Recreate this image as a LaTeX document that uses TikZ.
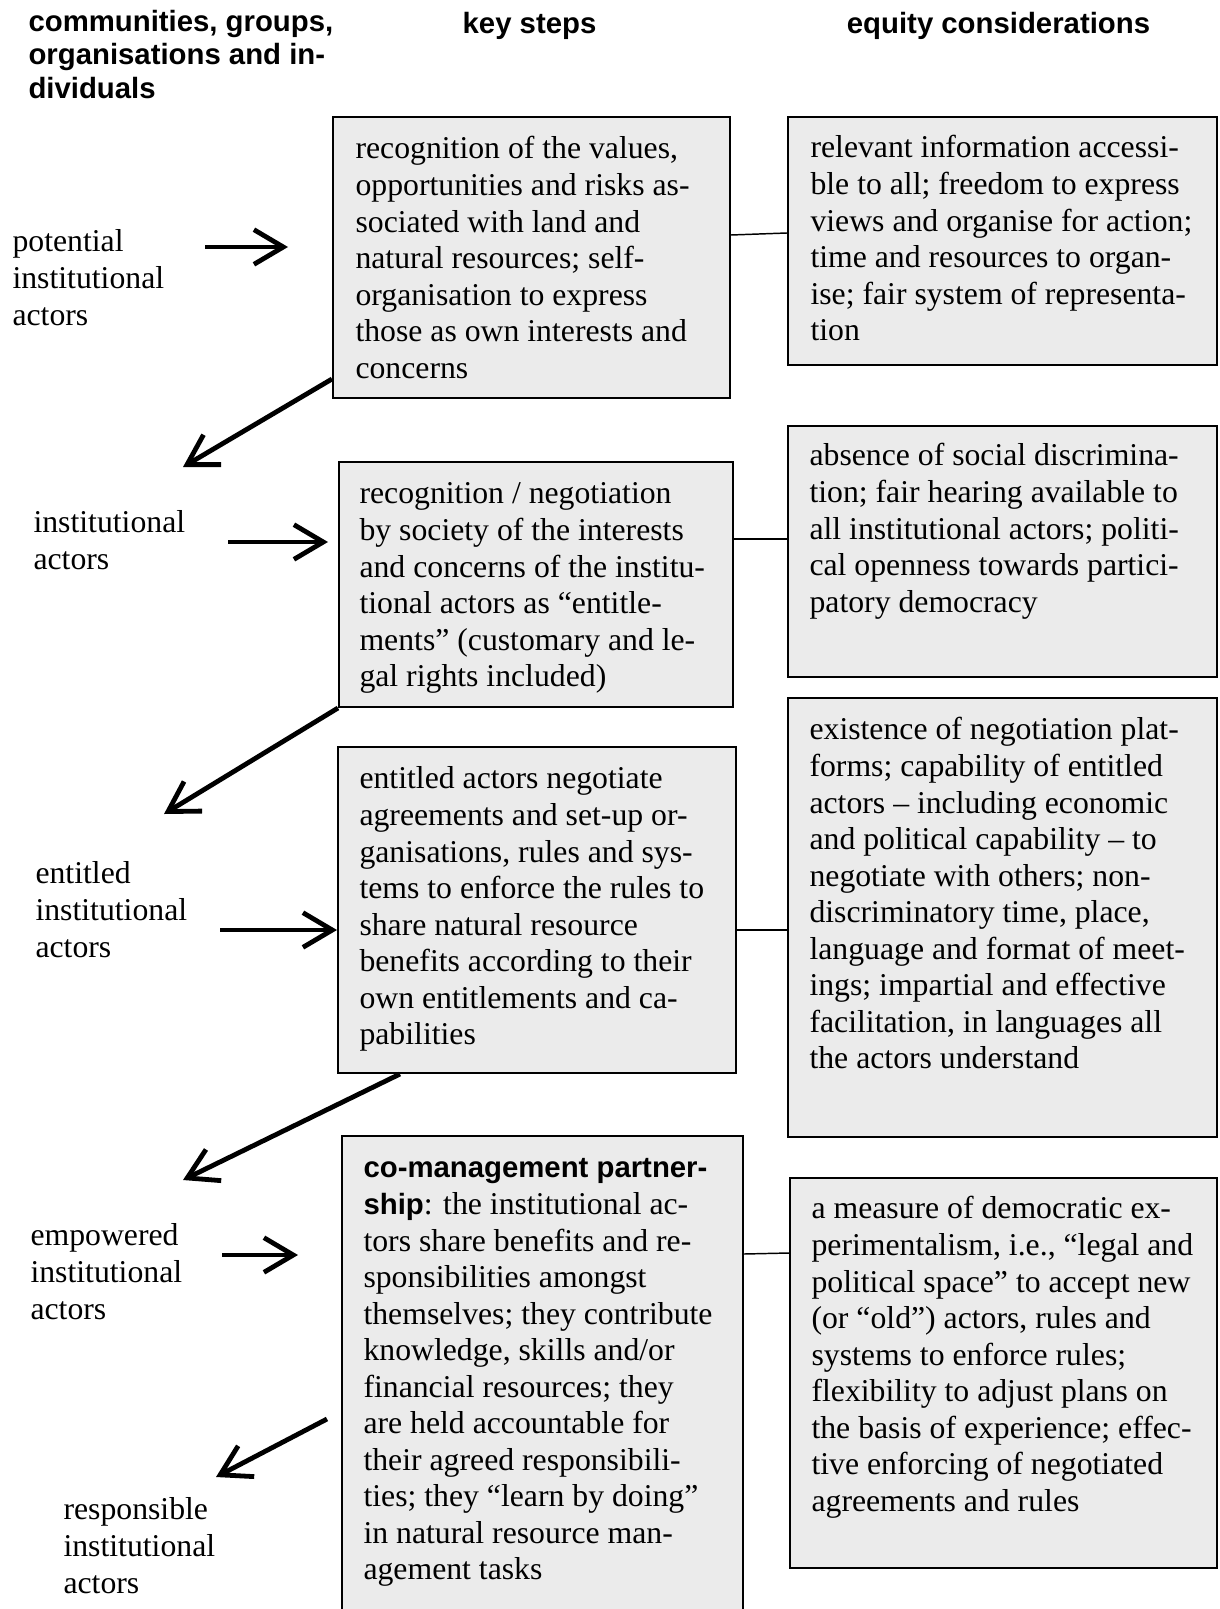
\documentclass[tikz,border=0pt]{standalone}
\usepackage{fontspec}
\setmainfont{Liberation Serif}
\newfontfamily\hdfont{Liberation Sans}
\usetikzlibrary{arrows.meta,fit}
\definecolor{boxfill}{HTML}{EBEBEB}
\newcommand\bodyfont{\fontsize{11.9}{13.7}\selectfont}
\newcommand\headfont{\hdfont\bfseries\fontsize{11}{12.65}\selectfont}
\newcommand\keyword[1]{{\hdfont\bfseries\fontsize{11}{13.7}\selectfont #1}}

\begin{document}
\begin{tikzpicture}[x=0.375pt,y=-0.375pt,
  stepbox/.style={draw, line width=0.75pt, fill=boxfill, inner sep=0pt, rectangle},
  txt/.style={anchor=north west, inner sep=0pt, align=left, font=\bodyfont, yshift=8.3pt},
  headtxt/.style={anchor=north west, inner sep=0pt, align=left, font=\headfont, yshift=8.855pt},
  headc/.style={anchor=base, inner sep=0pt, font=\headfont},
  link/.style={line width=0.55pt},
  flow/.style={line width=1.8pt, -{Straight Barb[length=11pt,width=13pt]}}]

% page
\useasboundingbox[fill=white] (0,0) rectangle (1219,1609);

% column headings
\node[headtxt] (hcom) at (28,30.5) {\strut communities, groups,\\organisations and in-\\dividuals};
\node[headc] (hkey) at (529.5,34) {key steps};
\node[headc] (hequ) at (998.5,34) {equity considerations};

% key step boxes
\node[stepbox, fit={(333,117) (730,398)}] (b1) {};
\node[stepbox, fit={(339,462) (733,707)}] (b2) {};
\node[stepbox, fit={(338,747) (736,1073)}] (b3) {};
\node[stepbox, fit={(342,1136) (743,1618)}] (b4) {};

% equity boxes
\node[stepbox, fit={(788,117) (1217,365)}] (e1) {};
\node[stepbox, fit={(788,426) (1217,677)}] (e2) {};
\node[stepbox, fit={(788,698) (1217,1137)}] (e3) {};
\node[stepbox, fit={(790,1178) (1217,1568)}] (e4) {};

% links between steps and equity considerations
\draw[link] (b1.east |- 0,235) -- (e1.west |- 0,233);
\draw[link] (b2.east |- 0,539) -- (e2.west |- 0,539);
\draw[link] (b3.east |- 0,930) -- (e3.west |- 0,930);
\draw[link] (b4.east |- 0,1254) -- (e4.west |- 0,1253);

% texts of key steps
\node[txt] (b1t) at (355,155) {\strut recognition of the values,\\
opportunities and risks as-\\
sociated with land and\\
natural resources; self-\\
organisation to express\\
those as own interests and\\
concerns};

\node[txt] (b2t) at (359,500) {\strut recognition / negotiation\\
by society of the interests\\
and concerns of the institu-\\
tional actors as “entitle-\\
ments” (customary and le-\\
gal rights included)};

\node[txt] (b3t) at (359,785) {\strut entitled actors negotiate\\
agreements and set-up or-\\
ganisations, rules and sys-\\
tems to enforce the rules to\\
share natural resource\\
benefits according to their\\
own entitlements and ca-\\
pabilities};

\node[txt] (b4t) at (363,1174) {\strut\keyword{co-management partner-}\\
\keyword{ship}: the institutional ac-\\
tors share benefits and re-\\
sponsibilities amongst\\
themselves; they contribute\\
knowledge, skills and/or\\
financial resources; they\\
are held accountable for\\
their agreed responsibili-\\
ties; they “learn by doing”\\
in natural resource man-\\
agement tasks};

% texts of equity considerations
\node[txt] (e1t) at (810,154) {\strut relevant information accessi-\\
ble to all; freedom to express\\
views and organise for action;\\
time and resources to organ-\\
ise; fair system of representa-\\
tion};

\node[txt] (e2t) at (809,462) {\strut absence of social discrimina-\\
tion; fair hearing available to\\
all institutional actors; politi-\\
cal openness towards partici-\\
patory democracy};

\node[txt] (e3t) at (809,736) {\strut existence of negotiation plat-\\
forms; capability of entitled\\
actors -- including economic\\
and political capability -- to\\
negotiate with others; non-\\
discriminatory time, place,\\
language and format of meet-\\
ings; impartial and effective\\
facilitation, in languages all\\
the actors understand};

\node[txt] (e4t) at (811,1215) {\strut a measure of democratic ex-\\
perimentalism, i.e., “legal and\\
political space” to accept new\\
(or “old”) actors, rules and\\
systems to enforce rules;\\
flexibility to adjust plans on\\
the basis of experience; effec-\\
tive enforcing of negotiated\\
agreements and rules};

% actors
\node[txt] (a1) at (12,248) {\strut potential\\institutional\\actors};
\node[txt] (a2) at (33,529) {\strut institutional\\actors};
\node[txt] (a3) at (35,880) {\strut entitled\\institutional\\actors};
\node[txt] (a4) at (30,1242) {\strut empowered\\institutional\\actors};
\node[txt] (a5) at (63,1516) {\strut responsible\\institutional\\actors};

% flow arrows
\coordinate (p1) at (205,247);  \coordinate (q1) at (288,247);
\coordinate (r1) at (183,467);
\coordinate (p2) at (228,542);  \coordinate (q2) at (328,542);
\coordinate (r2) at (164,814);
\coordinate (p3) at (220,930);
\coordinate (r3) at (183,1180);
\coordinate (p4) at (222,1255); \coordinate (q4) at (298,1255);
\coordinate (s5) at (327,1419); \coordinate (r5) at (216,1477);

\draw[flow] (p1) -- (q1);
\draw[flow] (b1.west |- 0,379) -- (r1);
\draw[flow] (p2) -- (q2);
\draw[flow] (b2.south west) -- (r2);
\draw[flow] (p3) -- (b3.west |- 0,930);
\draw[flow] (b3.south -| 400,0) -- (r3);
\draw[flow] (p4) -- (q4);
\draw[flow] (s5) -- (r5);
\end{tikzpicture}
\end{document}
